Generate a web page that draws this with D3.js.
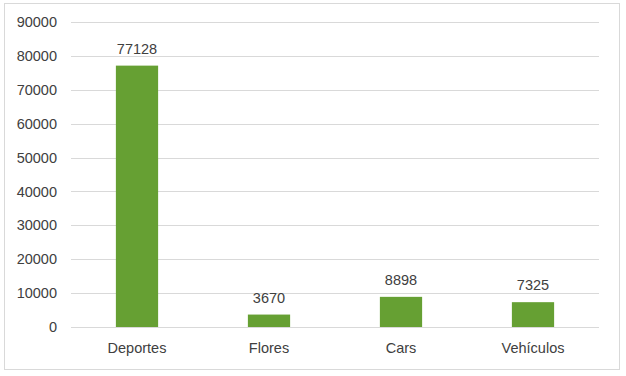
<!DOCTYPE html>
<html><head><meta charset="utf-8">
<script src="https://cdn.jsdelivr.net/npm/d3@7"></script>
<style>body{margin:0;background:#fff;} text{font-family:"Liberation Sans",Arial,sans-serif;}</style>
</head><body>
<svg id="c" width="626" height="376"></svg>
<script>
const categories = ["Deportes", "Flores", "Cars", "Vehículos"];
const values = [77128, 3670, 8898, 7325];
const yTicks = [0, 10000, 20000, 30000, 40000, 50000, 60000, 70000, 80000, 90000];

(function () {
const svg = d3.select("#c");
svg.append("rect").attr("x", 4.5).attr("y", 3.5).attr("width", 615).attr("height", 366)
  .attr("fill", "#fff").attr("stroke", "#d9d9d9").attr("stroke-width", 1);

const pLeft = 71, pRight = 599, pTop = 22, pBottom = 327;
const x = d3.scaleBand().domain(categories).range([pLeft, pRight]).paddingInner(0.68).paddingOuter(0.34);
const y = d3.scaleLinear().domain([0, 90000]).range([pBottom, pTop]);

const grid = svg.append("g");
grid.selectAll("line").data(yTicks).join("line")
  .attr("x1", pLeft).attr("x2", pRight)
  .attr("y1", d => Math.round(y(d)) + 0.5).attr("y2", d => Math.round(y(d)) + 0.5)
  .attr("stroke", "#d9d9d9").attr("stroke-width", 1);

const yAxis = svg.append("g").attr("transform", `translate(${pLeft},0)`)
  .call(d3.axisLeft(y).tickValues(yTicks).tickSize(0).tickPadding(14).tickFormat(d3.format("d")));
yAxis.select(".domain").remove();
yAxis.selectAll("text").attr("fill", "#404040").style("font-size", "14.5px");

svg.append("g").selectAll("rect").data(values).join("rect")
  .attr("x", (d, i) => x(categories[i]))
  .attr("width", x.bandwidth())
  .attr("y", d => y(d))
  .attr("height", d => y(0) - y(d))
  .attr("fill", "#66a033");

svg.append("g").selectAll("text").data(values).join("text")
  .attr("x", (d, i) => x(categories[i]) + x.bandwidth() / 2)
  .attr("y", d => y(d) - 12)
  .attr("text-anchor", "middle").attr("fill", "#404040").style("font-size", "14.5px")
  .text(d => d);

const xAxis = svg.append("g").attr("transform", `translate(0,${pBottom})`)
  .call(d3.axisBottom(x).tickSize(0).tickPadding(16));
xAxis.select(".domain").remove();
xAxis.selectAll("text").attr("fill", "#404040").style("font-size", "14.5px");
})();
</script>
</body></html>
